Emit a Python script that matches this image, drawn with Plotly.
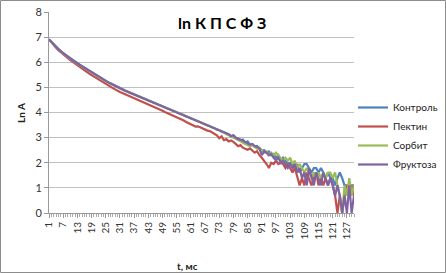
import plotly.graph_objects as go

title_text = "ln К П С Ф З"
series_names = ["Контроль", "Пектин", "Сорбит", "Фруктоза"]
series_colors = ["#4F81BD", "#C0504D", "#9BBB59", "#8064A2"]

kontrol = [6.91, 6.81, 6.71, 6.61, 6.52, 6.44, 6.36, 6.29, 6.22, 6.15,
           6.08, 6.02, 5.96, 5.90, 5.84, 5.78, 5.72, 5.66, 5.60, 5.55,
           5.49, 5.43, 5.38, 5.32, 5.27, 5.21, 5.16, 5.11, 5.06, 5.01,
           4.97, 4.93, 4.89, 4.85, 4.81, 4.77, 4.73, 4.69, 4.65, 4.61,
           4.57, 4.53, 4.49, 4.45, 4.41, 4.37, 4.33, 4.29, 4.25, 4.21,
           4.17, 4.13, 4.09, 4.05, 4.01,
           3.97, 3.92, 3.90, 3.85, 3.80, 3.78, 3.73, 3.68, 3.67, 3.61,
           3.59, 3.55, 3.49, 3.47, 3.41, 3.39, 3.33, 3.31, 3.24, 3.22,
           3.16, 3.14, 3.05, 3.08, 2.99, 2.97, 2.89, 2.92, 2.81, 2.85,
           2.71, 2.74, 2.64, 2.67, 2.56, 2.48, 2.50, 2.40, 2.45, 2.30,
           2.35, 2.20, 2.30, 2.08, 2.20, 2.08, 1.95, 2.00, 1.95, 1.79,
           1.95, 1.61, 1.79, 1.95, 1.95, 1.79, 1.61, 1.79, 1.79, 1.61,
           1.79, 1.61, 1.39, 1.61, 1.39, 1.39, 1.10, 1.39, 1.61, 1.39,
           1.10, 1.10, 0.69, 1.10, 1.10]

pektin = [6.91, 6.79, 6.68, 6.58, 6.48, 6.39, 6.31, 6.23, 6.16, 6.08,
          6.01, 5.94, 5.88, 5.81, 5.75, 5.68, 5.62, 5.55, 5.49, 5.43,
          5.37, 5.31, 5.24, 5.19, 5.13, 5.07, 5.02, 4.97, 4.92, 4.86,
          4.82, 4.78, 4.74, 4.69, 4.65, 4.61, 4.57, 4.53, 4.48, 4.44,
          4.40, 4.36, 4.32, 4.27, 4.23, 4.19, 4.15, 4.11, 4.07, 4.02,
          3.98, 3.94, 3.89, 3.85, 3.81,
          3.77, 3.72, 3.68, 3.62, 3.58, 3.52, 3.50, 3.44, 3.45, 3.40,
          3.35, 3.30, 3.28, 3.26, 3.20, 3.14, 3.09, 2.98, 3.05, 2.90,
          2.94, 2.85, 2.89, 2.83, 2.75, 2.66, 2.70, 2.60, 2.56, 2.52,
          2.57, 2.48, 2.40, 2.46, 2.30, 2.20, 2.08, 1.95, 1.79, 2.00,
          1.95, 2.08, 1.95, 2.00, 1.95, 1.79, 1.95, 1.79, 1.61, 1.79,
          1.39, 1.10, 1.39, 1.10, 1.61, 1.39, 1.10, 1.39, 1.61, 1.10,
          1.39, 1.10, 1.39, 1.10, 1.39, 1.10, 0.69, 0.00, 0.69, 0.00,
          0.69, 1.10, 0.69, 1.10, 0.69]

sorbit = [6.91, 6.80, 6.70, 6.60, 6.51, 6.42, 6.34, 6.27, 6.20, 6.13,
          6.06, 6.00, 5.94, 5.88, 5.82, 5.76, 5.70, 5.64, 5.58, 5.53,
          5.47, 5.41, 5.36, 5.30, 5.25, 5.19, 5.14, 5.09, 5.04, 4.99,
          4.95, 4.91, 4.87, 4.83, 4.79, 4.75, 4.71, 4.67, 4.63, 4.59,
          4.55, 4.52, 4.48, 4.44, 4.40, 4.36, 4.32, 4.28, 4.24, 4.20,
          4.16, 4.12, 4.08, 4.04, 4.00,
          3.98, 3.93, 3.91, 3.84, 3.82, 3.76, 3.74, 3.68, 3.65, 3.62,
          3.57, 3.54, 3.48, 3.46, 3.40, 3.38, 3.31, 3.30, 3.22, 3.20,
          3.13, 3.10, 3.03, 3.00, 2.96, 2.92, 2.85, 2.80, 2.76, 2.72,
          2.66, 2.70, 2.62, 2.56, 2.60, 2.50, 2.40, 2.45, 2.30, 2.40,
          2.30, 2.40, 2.30, 2.20, 2.08, 2.20, 2.08, 2.20, 1.95, 2.08,
          1.79, 1.95, 1.79, 1.61, 1.79, 1.61, 1.39, 1.61, 1.39, 1.61,
          1.39, 1.61, 1.39, 1.61, 1.61, 1.39, 1.61, 1.10, 0.69, 0.00,
          1.10, 0.69, 1.39, 0.69, 1.10]

fruktoza = [6.91, 6.80, 6.70, 6.60, 6.51, 6.43, 6.35, 6.28, 6.21, 6.14,
            6.07, 6.01, 5.95, 5.89, 5.83, 5.77, 5.71, 5.65, 5.59, 5.53,
            5.48, 5.42, 5.36, 5.31, 5.25, 5.20, 5.15, 5.10, 5.05, 5.00,
            4.96, 4.92, 4.88, 4.84, 4.80, 4.76, 4.72, 4.68, 4.64, 4.60,
            4.56, 4.52, 4.48, 4.44, 4.40, 4.36, 4.32, 4.28, 4.24, 4.20,
            4.16, 4.12, 4.08, 4.04, 4.00,
            3.96, 3.93, 3.89, 3.84, 3.81, 3.77, 3.72, 3.69, 3.66, 3.61,
            3.58, 3.53, 3.50, 3.46, 3.42, 3.37, 3.35, 3.29, 3.27, 3.21,
            3.19, 3.13, 3.06, 3.09, 3.00, 2.94, 2.92, 2.86, 2.83, 2.77,
            2.72, 2.75, 2.66, 2.64, 2.56, 2.30, 2.45, 2.40, 2.30, 2.35,
            2.20, 2.10, 2.20, 2.00, 2.08, 1.95, 1.79, 1.95, 1.79, 1.95,
            1.61, 1.79, 1.39, 1.61, 1.10, 1.79, 1.39, 1.10, 1.61, 1.39,
            1.10, 1.61, 1.39, 1.10, 1.39, 1.10, 0.69, 1.10, 0.69, 0.00,
            0.69, 0.00, 1.10, 0.00, 0.69]

series_values = [kontrol, pektin, sorbit, fruktoza]

y_tick_vals = [0, 1, 2, 3, 4, 5, 6, 7, 8]
x_axis_title = "t, мс"
y_axis_title = "Ln A"

font_family = "Lato, 'Open Sans', sans-serif"

fig = go.Figure()
for name, color, vals in zip(series_names, series_colors, series_values):
    fig.add_trace(go.Scatter(
        x=list(range(1, len(vals) + 1)), y=vals, mode="lines", name=name,
        line=dict(color=color, width=2.2),
    ))

W, H = 446, 273
L, R, T, B = 49, 92, 12, 60
pw, ph = W - L - R, H - T - B

def px_x(p):
    return (p - L) / pw

def px_y(p):
    return (H - B - p) / ph

fig.update_layout(
    width=W, height=H,
    margin=dict(l=L, r=R, t=T, b=B, autoexpand=False),
    paper_bgcolor="white", plot_bgcolor="white",
    font=dict(family=font_family, size=10, color="#333333"),
    showlegend=True,
    legend=dict(
        x=px_x(353), y=px_y(136), xanchor="left", yanchor="middle",
        font=dict(size=10, color="#222222"),
        bgcolor="rgba(0,0,0,0)", itemwidth=30, tracegroupgap=0,
    ),
    xaxis=dict(
        range=[1, 130], tickmode="linear", tick0=1, dtick=6,
        tickangle=-90, ticks="outside", ticklen=4, tickcolor="#999999",
        showline=True, linecolor="#999999", linewidth=1,
        showgrid=False, zeroline=False, automargin=False,
        tickfont=dict(size=10, color="#333333"),
        minor=dict(dtick=1, tick0=1, ticks="outside", ticklen=3,
                   tickcolor="#aaaaaa", showgrid=False),
    ),
    yaxis=dict(
        range=[0, 8], tickmode="array", tickvals=y_tick_vals,
        ticks="outside", ticklen=4, tickcolor="#999999",
        showline=True, linecolor="#999999", linewidth=1,
        showgrid=True, gridcolor="#c0c0c0", gridwidth=1, zeroline=False,
        automargin=False,
        tickfont=dict(size=11, color="#333333"),
    ),
    annotations=[
        dict(text="<b>" + title_text + "</b>", xref="paper", yref="paper",
             x=px_x(222), y=px_y(23), xanchor="center", yanchor="middle",
             showarrow=False, font=dict(size=16, color="#000000", family=font_family)),
        dict(text="<b>" + x_axis_title + "</b>", xref="paper", yref="paper",
             x=px_x(187), y=px_y(266), xanchor="center", yanchor="middle",
             showarrow=False, font=dict(size=10, color="#222222")),
        dict(text="<b>" + y_axis_title + "</b>", xref="paper", yref="paper",
             x=px_x(21), y=px_y(113), xanchor="center", yanchor="middle",
             textangle=-90, showarrow=False, font=dict(size=10, color="#222222")),
    ],
    shapes=[
        dict(type="rect", xref="paper", yref="paper",
             x0=px_x(0.5), x1=px_x(445.5), y0=px_y(272.5), y1=px_y(0.5),
             line=dict(color="#8c8c8c", width=1), fillcolor="rgba(0,0,0,0)",
             layer="below"),
    ],
)

fig.write_html("out.html", config={"displayModeBar": False},
               post_script="document.body.style.margin='0';document.body.style.overflow='hidden';")
